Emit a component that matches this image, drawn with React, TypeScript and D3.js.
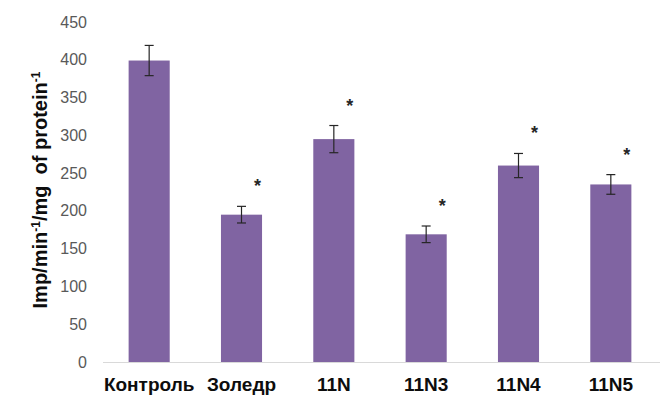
import React, { useEffect, useRef } from 'react';
import * as d3 from 'd3';

const categories = ['Контроль', 'Золедр', '11N', '11N3', '11N4', '11N5'];
const values = [399, 195, 295, 169, 260, 235];
const errors = [20, 11, 18, 11, 16, 13];
const significant = [false, true, true, true, true, true];
const yTicks = [0, 50, 100, 150, 200, 250, 300, 350, 400, 450];

const FONT = '"Liberation Sans", Arial, sans-serif';

const App = () => {
  const svgRef = useRef<SVGSVGElement>(null);

  useEffect(() => {
    const svg = d3.select(svgRef.current);
    svg.selectAll('*').remove();

    const width = 668;
    const height = 401;
    const left = 103;
    const right = 657;
    const top = 22;
    const bottom = 362;

    const x = d3.scaleBand<string>()
      .domain(categories)
      .range([left, right])
      .paddingInner(0.555)
      .paddingOuter(0.2775);

    const y = d3.scaleLinear().domain([0, 450]).range([bottom, top]);

    svg.attr('width', width).attr('height', height);

    // y tick labels (no axis line, no grid)
    svg.append('g')
      .selectAll('text')
      .data(yTicks)
      .join('text')
      .attr('x', 87)
      .attr('y', d => y(d))
      .attr('dy', '0.35em')
      .attr('text-anchor', 'end')
      .attr('font-family', FONT)
      .attr('font-size', 16)
      .attr('fill', '#595959')
      .text(d => d);

    // bars
    svg.append('g')
      .selectAll('rect')
      .data(values)
      .join('rect')
      .attr('x', (d, i) => x(categories[i])!)
      .attr('y', d => y(d))
      .attr('width', x.bandwidth())
      .attr('height', d => bottom - y(d))
      .attr('fill', '#8064A2');

    // x axis line
    svg.append('line')
      .attr('x1', left)
      .attr('x2', right + 3)
      .attr('y1', bottom + 0.5)
      .attr('y2', bottom + 0.5)
      .attr('stroke', '#d9d9d9')
      .attr('stroke-width', 1);

    // error bars
    const eb = svg.append('g')
      .attr('stroke', '#262626')
      .attr('stroke-width', 1.2);
    values.forEach((v, i) => {
      const cx = x(categories[i])! + x.bandwidth() / 2;
      const y1 = y(v + errors[i]);
      const y2 = y(v - errors[i]);
      eb.append('line').attr('x1', cx).attr('x2', cx).attr('y1', y1).attr('y2', y2);
      eb.append('line').attr('x1', cx - 4.5).attr('x2', cx + 4.5).attr('y1', y1).attr('y2', y1);
      eb.append('line').attr('x1', cx - 4.5).attr('x2', cx + 4.5).attr('y1', y2).attr('y2', y2);
    });

    // significance asterisks
    svg.append('g')
      .selectAll('text')
      .data(values.map((v, i) => ({ v, i })).filter(d => significant[d.i]))
      .join('text')
      .attr('x', d => x(categories[d.i])! + x.bandwidth() / 2 + 16)
      .attr('y', d => y(d.v + errors[d.i]) - 14)
      .attr('text-anchor', 'middle')
      .attr('font-family', FONT)
      .attr('font-weight', 'bold')
      .attr('font-size', 18)
      .attr('fill', '#262626')
      .text('*');

    // category labels
    svg.append('g')
      .selectAll('text')
      .data(categories)
      .join('text')
      .attr('x', d => x(d)! + x.bandwidth() / 2)
      .attr('y', 391)
      .attr('text-anchor', 'middle')
      .attr('font-family', FONT)
      .attr('font-weight', 'bold')
      .attr('font-size', 19)
      .attr('fill', '#0d0d0d')
      .text(d => d);

    // y axis title
    const title = svg.append('text')
      .attr('transform', `translate(47,190) rotate(-90)`)
      .attr('text-anchor', 'middle')
      .attr('font-family', FONT)
      .attr('font-weight', 'bold')
      .attr('font-size', 20)
      .attr('fill', '#0d0d0d');
    title.append('tspan').text('Imp/min');
    title.append('tspan').attr('font-size', 12).attr('dy', -7).text('-1');
    title.append('tspan').attr('dy', 7).text('/mg\u00a0 of protein');
    title.append('tspan').attr('font-size', 12).attr('dy', -7).text('-1');
  }, []);

  return (
    <svg ref={svgRef} style={{ position: 'absolute', left: 0, top: 0 }} />
  );
};

export default App;
